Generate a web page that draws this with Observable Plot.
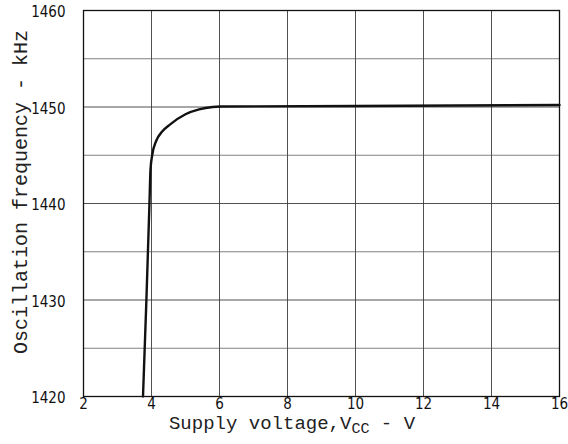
<!DOCTYPE html>
<html>
<head>
<meta charset="utf-8">
<script src="https://cdn.jsdelivr.net/npm/d3@7"></script>
<script src="https://cdn.jsdelivr.net/npm/@observablehq/plot@0.6"></script>
<style>
  html, body { margin: 0; padding: 0; background: #fff; }
  #chart svg { display: block; }
</style>
</head>
<body>
<div id="chart"></div>
<script>
// Supply voltage (V) and oscillation frequency (kHz)
const voltage   = [3.75, 3.85, 3.94, 3.97, 4.02, 4.14, 4.30, 4.55, 5.00, 5.40, 5.80, 6.00, 10.0, 16.0];
const frequency = [1420, 1430, 1440, 1443.5, 1445, 1446.5, 1447.4, 1448.2, 1449.25, 1449.75, 1450.0, 1450.05, 1450.1, 1450.2];
const xTicks = [2, 4, 6, 8, 10, 12, 14, 16];
const yTicks = [1420, 1430, 1440, 1450, 1460];
const yGrid  = [1425, 1435, 1445, 1455];
const xLabel = "Supply voltage,V";
const xLabelSub = "CC";
const xLabelTail = " - V";
const yLabel = "Oscillation frequency - kHz";

const data = voltage.map((v, i) => ({v, f: frequency[i]}));

const tickFont = "'Liberation Sans Narrow', 'DejaVu Sans Condensed', sans-serif";
const monoFont = "'Liberation Mono', 'DejaVu Sans Mono', monospace";

const chart = Plot.plot({
  width: 568,
  height: 444,
  marginLeft: 83,
  marginRight: 9,
  marginTop: 10,
  marginBottom: 48,
  style: {background: "#fff", color: "#111"},
  x: {domain: [2, 16]},
  y: {domain: [1420, 1460]},
  marks: [
    Plot.gridX(xTicks, {stroke: "#333", strokeOpacity: 0.85, strokeWidth: 1}),
    Plot.gridY(yTicks, {stroke: "#333", strokeOpacity: 0.85, strokeWidth: 1}),
    Plot.gridY(yGrid, {stroke: "#555", strokeOpacity: 0.75, strokeWidth: 1}),
    Plot.frame({stroke: "#111", strokeWidth: 1.3}),
    Plot.axisX(xTicks, {tickSize: 0, tickPadding: 2, fontSize: 15, fontFamily: tickFont, label: null, fill: "#111", tickFormat: d => String(d)}),
    Plot.axisY(yTicks, {tickSize: 0, tickPadding: 18, fontSize: 15, fontFamily: tickFont, label: null, fill: "#111", tickFormat: d => String(d), dy: 2}),
    Plot.line(data, {x: "v", y: "f", curve: "monotone-x", stroke: "#111", strokeWidth: 2.4})
  ]
});

document.getElementById("chart").appendChild(chart);

const svg = d3.select(chart);
const xt = svg.append("text")
  .attr("x", 292)
  .attr("y", 429)
  .attr("text-anchor", "middle")
  .attr("font-family", monoFont)
  .attr("font-size", 19)
  .attr("fill", "#222");
xt.append("tspan").text(xLabel);
xt.append("tspan").attr("font-size", 15).attr("dy", 4).text(xLabelSub);
xt.append("tspan").attr("dy", -4).text(xLabelTail);

svg.append("text")
  .attr("transform", "translate(27,192) rotate(-90)")
  .attr("text-anchor", "middle")
  .attr("font-family", monoFont)
  .attr("font-size", 20)
  .attr("fill", "#222")
  .text(yLabel);
</script>
</body>
</html>
